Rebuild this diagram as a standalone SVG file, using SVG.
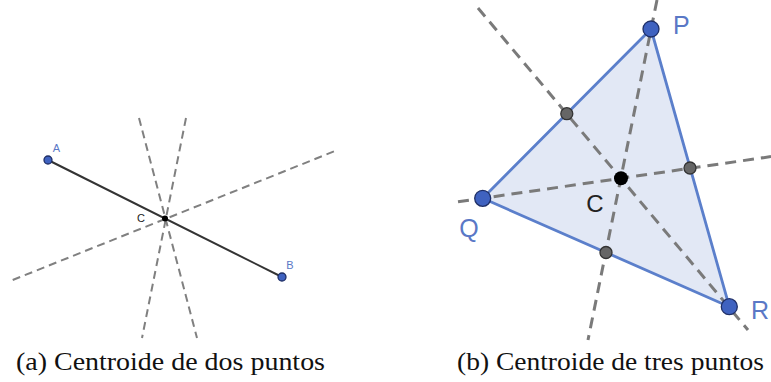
<svg xmlns="http://www.w3.org/2000/svg" width="771" height="382" viewBox="0 0 771 382">
<style>
.dashA{stroke:#808080;stroke-width:2;stroke-dasharray:8 5;fill:none}
.dashB{stroke:#7a7a7a;stroke-width:3;stroke-dasharray:11 7;fill:none}
.seg{stroke:#333;stroke-width:2;fill:none}
.tri{fill:#e2e8f5;stroke:none}
.edge{stroke:#5b7fcb;stroke-width:2.8;fill:none;stroke-linejoin:round}
.pt{fill:#3f62c0;stroke:#1f2f66;stroke-width:1.3}
.mid{fill:#666;stroke:#333;stroke-width:1.3}
.cen{fill:#000}
.lblS{font-family:"Liberation Sans",Arial,sans-serif;font-size:11px;fill:#5a78c6}
.lblSc{font-family:"Liberation Sans",Arial,sans-serif;font-size:11px;fill:#222}
.lblL{font-family:"Liberation Sans",Arial,sans-serif;font-size:25px;fill:#5a78c6}
.lblLc{font-family:"Liberation Sans",Arial,sans-serif;font-size:24px;fill:#222}
.cap{font-family:"Liberation Serif","Times New Roman",serif;font-size:25px;fill:#111}
</style>
<rect width="771" height="382" fill="#fff"/>

<!-- Panel (a) -->
<g id="connectors-a">
  <line class="dashA" x1="12.7" y1="280" x2="335" y2="151"/>
  <line class="dashA" x1="139" y1="118" x2="197" y2="338"/>
  <line class="dashA" x1="186" y1="118" x2="142" y2="338"/>
  <line class="seg" x1="48" y1="160" x2="282" y2="277"/>
</g>
<g id="node-A">
  <circle class="pt" cx="48" cy="160" r="4"/>
  <text class="lblS" x="56.5" y="151.5" text-anchor="middle">A</text>
</g>
<g id="node-B">
  <circle class="pt" cx="282" cy="277" r="4"/>
  <text class="lblS" x="290" y="269" text-anchor="middle">B</text>
</g>
<g id="node-Ca">
  <circle class="cen" cx="165" cy="218.5" r="3"/>
  <text class="lblSc" x="141" y="222" text-anchor="middle">C</text>
</g>

<!-- Panel (b) -->
<polygon id="triangle-fill" class="tri" points="651,29 482.7,198.3 729.3,306.7"/>
<g id="connectors-b">
  <line class="dashB" x1="478" y1="8" x2="748" y2="330"/>
  <line class="dashB" x1="657" y1="0" x2="588" y2="340"/>
  <line class="dashB" x1="458" y1="201.8" x2="771" y2="156.6"/>
  <polygon class="edge" points="651,29 482.7,198.3 729.3,306.7"/>
</g>
<g id="node-M1"><circle class="mid" cx="566.8" cy="113.7" r="6"/></g>
<g id="node-M2"><circle class="mid" cx="690" cy="168" r="6"/></g>
<g id="node-M3"><circle class="mid" cx="606" cy="252.5" r="6"/></g>
<g id="node-P">
  <circle class="pt" cx="651" cy="29" r="8"/>
  <text class="lblL" x="673" y="33.5">P</text>
</g>
<g id="node-Q">
  <circle class="pt" cx="482.7" cy="198.3" r="8"/>
  <text class="lblL" x="469" y="237" text-anchor="middle">Q</text>
</g>
<g id="node-R">
  <circle class="pt" cx="729.3" cy="306.7" r="8"/>
  <text class="lblL" x="760" y="319" text-anchor="middle">R</text>
</g>
<g id="node-Cb">
  <circle class="cen" cx="621" cy="178.3" r="7"/>
  <text class="lblLc" x="595" y="212" text-anchor="middle">C</text>
</g>

<!-- Captions -->
<text class="cap" x="16" y="370" textLength="309" lengthAdjust="spacingAndGlyphs">(a) Centroide de dos puntos</text>
<text class="cap" x="457" y="370" textLength="307" lengthAdjust="spacingAndGlyphs">(b) Centroide de tres puntos</text>
</svg>
